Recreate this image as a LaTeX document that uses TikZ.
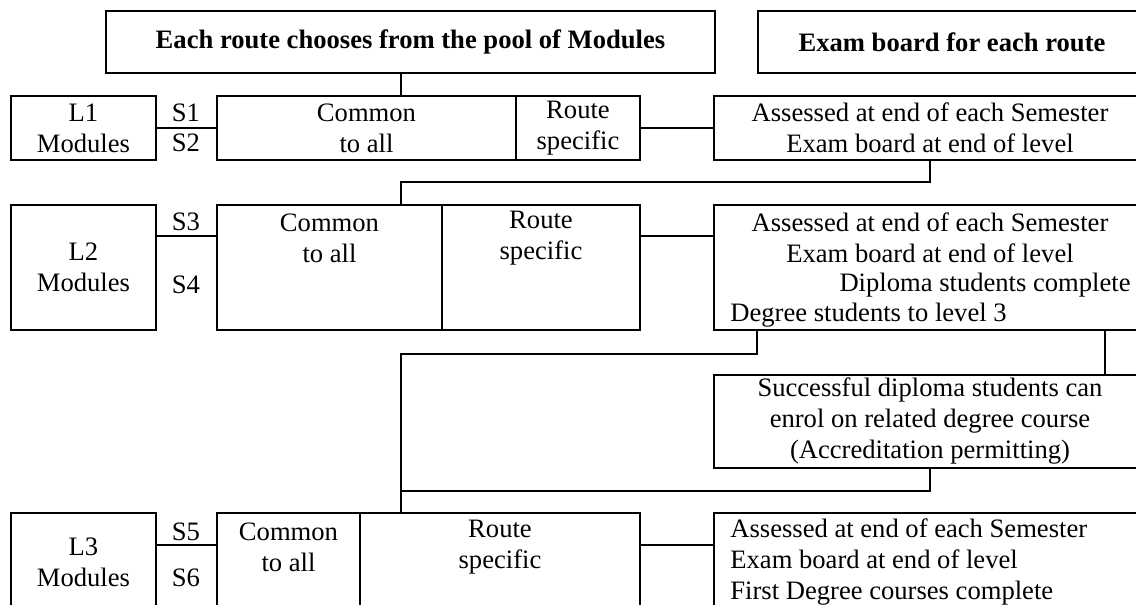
\documentclass[tikz,border=0pt]{standalone}
\usepackage{fontspec}
\setmainfont{Liberation Serif}
\tikzset{
  box/.style={draw, line width=1pt, inner sep=0pt, align=center,
    font=\fontsize{13.3}{15.5}\selectfont},
  txt/.style={inner sep=0pt, font=\fontsize{13.3}{15.5}\selectfont},
  head/.style={box, font=\fontsize{13.3}{15.5}\selectfont\bfseries},
  link/.style={line width=1pt}
}
\begin{document}
\begin{tikzpicture}[x=0.5pt,y=-0.5pt]
          \useasboundingbox (0,0) rectangle (1136,605);
          \clip (0,0) rectangle (1136,605);

          % headings
          \node[head, minimum width=304.5pt, minimum height=31pt] (title) at (410.5,42) {Each route chooses from the pool of Modules};
          \node[head, minimum width=194pt, minimum height=31pt] (exam) at (952,42) {Exam board for each route};

          % level 1
          \node[box, minimum width=72.5pt, minimum height=32pt] (m1) at (83.5,128) {L1\\Modules};
          \node[box, minimum width=149.5pt, minimum height=32pt] (c1) at (366.5,128) {Common\\to all};
          \node[box, minimum width=62pt, minimum height=32pt] (r1) at (578,128) {Route\\specific};
          \node[box, minimum width=216pt, minimum height=32pt] (a1) at (930,128) {Assessed at end of each Semester\\Exam board at end of level};
          \node[txt] (s1) at (186,113) {S1};
          \node[txt] (s2) at (186,143) {S2};

          % level 2
          \node[box, minimum width=72.5pt, minimum height=62.5pt] (m2) at (83.5,267.5) {L2\\Modules};
          \node[box, minimum width=112.5pt, minimum height=62.5pt] (c2) at (329.5,267.5) {};
          \node[box, minimum width=99pt, minimum height=62.5pt] (r2) at (541,267.5) {};
          \node[box, minimum width=216pt, minimum height=62.5pt] (a2) at (930,267.5) {};
          \node[txt, align=center] (c2t) at (329.5,238) {Common\\to all};
          \node[txt, align=center] (r2t) at (541,238) {Route\\specific};
          \node[txt, align=center] (a2t) at (930,238) {Assessed at end of each Semester\\Exam board at end of level};
          \node[txt, anchor=east] (a2d) at (1131,285) {Diploma students complete};
          \node[txt, anchor=west] (a2g) at (730,315) {Degree students to level 3};
          \node[txt] (s3) at (186,222) {S3};
          \node[txt] (s4) at (186,285) {S4};

          \node[box, minimum width=216pt, minimum height=46.5pt] (succ) at (930,421.5) {Successful diploma students can\\enrol on related degree course\\(Accreditation permitting)};

          % level 3
          \node[box, minimum width=72.5pt, minimum height=63.5pt] (m3) at (83.5,576.5) {};
          \node[box, minimum width=71.5pt, minimum height=63.5pt] (c3) at (288.5,576.5) {};
          \node[box, minimum width=140pt, minimum height=63.5pt] (r3) at (500,576.5) {};
          \node[box, minimum width=216pt, minimum height=63.5pt] (a3) at (930,576.5) {};
          \node[txt, align=center] (m3t) at (83.5,562.5) {L3\\Modules};
          \node[txt, align=center] (c3t) at (288.5,547) {Common\\to all};
          \node[txt, align=center] (r3t) at (500,547) {Route\\specific};
          \node[txt, align=left, anchor=west] (a3t) at (730,562) {Assessed at end of each Semester\\Exam board at end of level\\First Degree courses complete};
          \node[txt] (s5) at (186,532) {S5};
          \node[txt] (s6) at (186,578) {S6};

          % connectors
          \coordinate (jx) at (401,0);
          \coordinate (kx) at (1105,0);
          \coordinate (merge) at (401,491);

          \draw[link] (title.south -| jx) -- (c1.north -| jx);
          \draw[link] (m1.east) -- (c1.west);
          \draw[link] (r1.east) -- (a1.west);
          \draw[link] (a1.south) -- ++(0,21) -| (c2.north -| jx);
          \draw[link] ([yshift=-16pt]m2.north east) -- ([yshift=-16pt]c2.north west);
          \draw[link] ([yshift=-16pt]r2.north east) -- ([yshift=-16pt]a2.north west);
          \draw[link] ([xshift=22pt]a2.south west) -- ++(0,23) -| (r3.north -| jx);
          \draw[link] (a2.south -| kx) -- (succ.north -| kx);
          \draw[link] (succ.south) |- (merge);
          \draw[link] ([yshift=-16.5pt]m3.north east) -- ([yshift=-16.5pt]c3.north west);
          \draw[link] ([yshift=-16.5pt]r3.north east) -- ([yshift=-16.5pt]a3.north west);

        \end{tikzpicture}
\end{document}
